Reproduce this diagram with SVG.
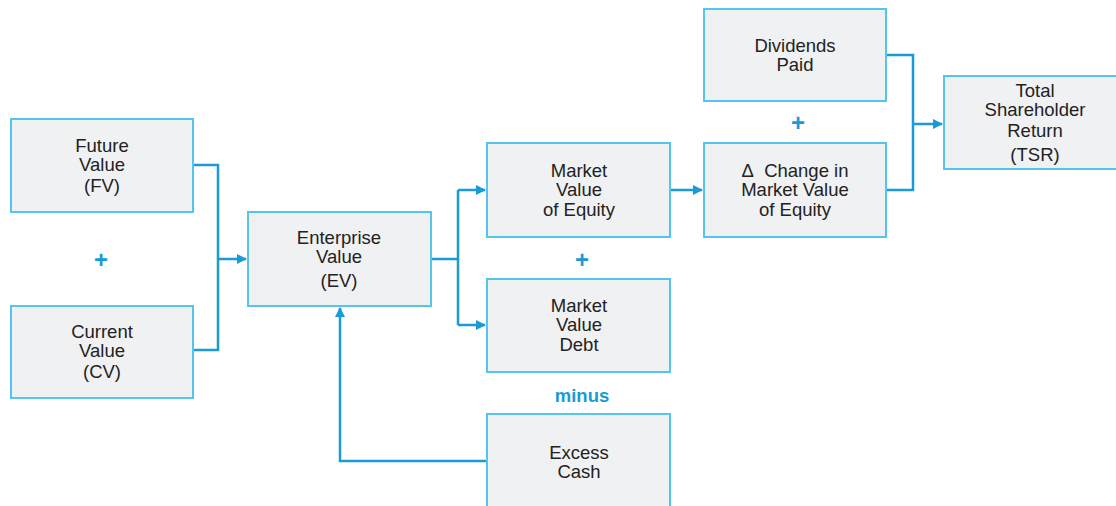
<svg xmlns="http://www.w3.org/2000/svg" width="1116" height="506" viewBox="0 0 1116 506">
<defs>
<style>
.box{fill:#f0f1f3;stroke:#56c5ee;stroke-width:2}
.t{font-family:"Liberation Sans",Arial,sans-serif;font-size:18.5px;fill:#222;text-anchor:middle}
.op{font-family:"Liberation Sans",Arial,sans-serif;font-size:24px;font-weight:bold;fill:#1a9ad6;text-anchor:middle}
.mn{font-family:"Liberation Sans",Arial,sans-serif;font-size:18.5px;font-weight:bold;fill:#1a9ad6;text-anchor:middle}
.c{fill:none;stroke:#1a9ad6;stroke-width:2.5}
</style>
<marker id="ah" markerWidth="10" markerHeight="10" refX="9" refY="5" orient="auto" markerUnits="userSpaceOnUse">
<path d="M0,0 L10,5 L0,10 z" fill="#1a9ad6"/>
</marker>
</defs>
<rect width="1116" height="506" fill="#fff"/>
<g id="connectors">
<path class="c" d="M193,165 H218 V350 H193"/>
<path class="c" d="M218,259 H246" marker-end="url(#ah)"/>
<path class="c" d="M431,259 H458"/>
<path class="c" d="M458,190 V325"/>
<path class="c" d="M458,190 H485" marker-end="url(#ah)"/>
<path class="c" d="M458,325 H485" marker-end="url(#ah)"/>
<path class="c" d="M487,461 H340 V308" marker-end="url(#ah)"/>
<path class="c" d="M670,190 H702" marker-end="url(#ah)"/>
<path class="c" d="M886,55 H913 V190 H886"/>
<path class="c" d="M913,124 H942" marker-end="url(#ah)"/>
</g>
<g id="fv"><rect class="box" x="11" y="119" width="182" height="93"/>
<text class="t" x="102" y="152">Future</text><text class="t" x="102" y="171">Value</text><text class="t" x="102" y="192">(FV)</text></g>
<g id="cv"><rect class="box" x="11" y="306" width="182" height="92"/>
<text class="t" x="102" y="338">Current</text><text class="t" x="102" y="357">Value</text><text class="t" x="102" y="378">(CV)</text></g>
<text class="op" x="101" y="268">+</text>
<g id="ev"><rect class="box" x="248" y="212" width="183" height="94"/>
<text class="t" x="339" y="244">Enterprise</text><text class="t" x="339" y="263">Value</text><text class="t" x="339" y="287">(EV)</text></g>
<g id="mve"><rect class="box" x="487" y="143" width="183" height="94"/>
<text class="t" x="579" y="177">Market</text><text class="t" x="579" y="196">Value</text><text class="t" x="579" y="216">of Equity</text></g>
<text class="op" x="582" y="268">+</text>
<g id="mvd"><rect class="box" x="487" y="279" width="183" height="93"/>
<text class="t" x="579" y="312">Market</text><text class="t" x="579" y="331">Value</text><text class="t" x="579" y="351">Debt</text></g>
<text class="mn" x="582" y="402">minus</text>
<g id="cash"><rect class="box" x="487" y="414" width="183" height="100"/>
<text class="t" x="579" y="459">Excess</text><text class="t" x="579" y="478">Cash</text></g>
<g id="dmve"><rect class="box" x="704" y="143" width="182" height="94"/>
<text class="t" x="795" y="177">Δ&#160; Change in</text><text class="t" x="795" y="196">Market Value</text><text class="t" x="795" y="216">of Equity</text></g>
<g id="div"><rect class="box" x="704" y="9" width="182" height="92"/>
<text class="t" x="795" y="52">Dividends</text><text class="t" x="795" y="71">Paid</text></g>
<text class="op" x="798" y="131">+</text>
<g id="tsr"><rect class="box" x="944" y="76" width="180" height="93"/>
<text class="t" x="1035" y="97">Total</text><text class="t" x="1035" y="116">Shareholder</text><text class="t" x="1035" y="137">Return</text><text class="t" x="1035" y="161">(TSR)</text></g>
</svg>
